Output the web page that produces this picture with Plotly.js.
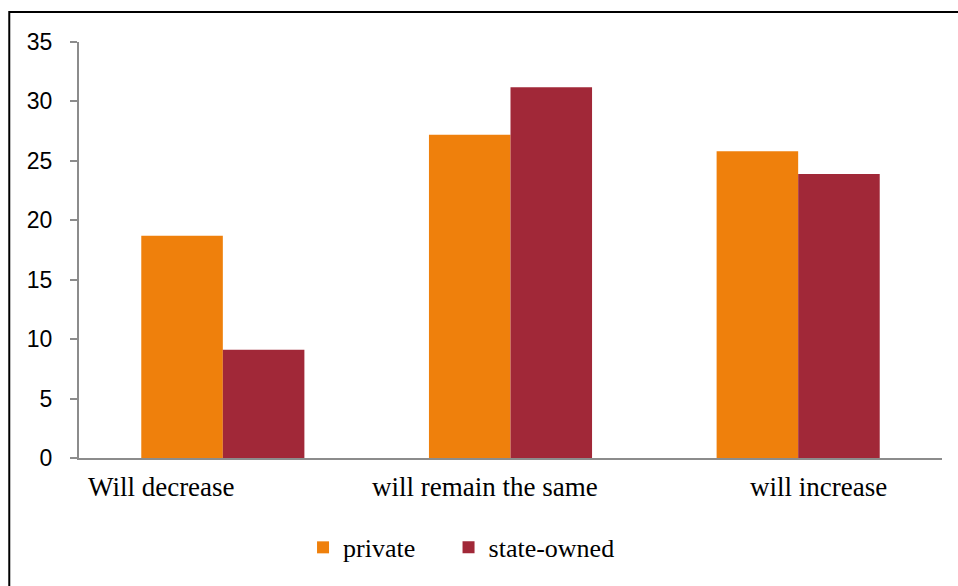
<!DOCTYPE html>
<html>
<head>
<meta charset="utf-8">
<script src="https://cdn.plot.ly/plotly-3.0.1.min.js"></script>
<style>
  html, body { margin: 0; padding: 0; background: #ffffff; }
  #chart { width: 958px; height: 586px; }
</style>
</head>
<body>
<div id="chart"></div>
<script>
const categories = ["Will decrease", "will remain the same", "will increase"];
const privateValues = [18.7, 27.2, 25.8];
const stateOwnedValues = [9.1, 31.2, 23.9];
const seriesNames = ["private", "state-owned"];
const yTickValues = [0, 5, 10, 15, 20, 25, 30, 35];

const labelShifts = [-61, -26, 20];
const serif = "Liberation Serif";
const sans = "Liberation Sans";

const traces = [
  {
    type: "bar",
    name: seriesNames[0],
    x: categories,
    y: privateValues,
    legend: "legend",
    marker: { color: "#EF800C", line: { width: 0 } },
    hoverinfo: "x+y+name"
  },
  {
    type: "bar",
    name: seriesNames[1],
    x: categories,
    y: stateOwnedValues,
    legend: "legend2",
    marker: { color: "#A12838", line: { width: 0 } },
    hoverinfo: "x+y+name"
  }
];

const annotations = categories.map((c, i) => ({
  x: c,
  xref: "x",
  y: -0.0705,
  yref: "paper",
  xanchor: "center",
  yanchor: "middle",
  xshift: labelShifts[i],
  showarrow: false,
  text: c,
  font: { family: serif, size: 27, color: "#000000" }
}));

const legendBase = {
  orientation: "h",
  xanchor: "left",
  y: -0.215,
  yanchor: "middle",
  font: { family: serif, size: 26, color: "#000000" },
  bgcolor: "rgba(0,0,0,0)"
};

const layout = {
  width: 958,
  height: 586,
  margin: { l: 79, r: 16, t: 42, b: 128 },
  font: { family: serif, color: "#000000" },
  paper_bgcolor: "#ffffff",
  plot_bgcolor: "#ffffff",
  barmode: "group",
  bargap: 0.433,
  bargroupgap: 0,
  showlegend: true,
  legend: Object.assign({}, legendBase, { x: 0.2596 }),
  legend2: Object.assign({}, legendBase, { x: 0.4282 }),
  xaxis: {
    type: "category",
    showticklabels: false,
    ticks: "",
    showline: true,
    linecolor: "#8c8c8c",
    linewidth: 2,
    showgrid: false,
    zeroline: false,
    fixedrange: true
  },
  yaxis: {
    range: [0, 35],
    tickvals: yTickValues,
    ticktext: yTickValues.map(String),
    ticks: "outside",
    ticklen: 7,
    tickwidth: 2,
    tickcolor: "#8c8c8c",
    ticklabelstandoff: 13,
    showline: true,
    linecolor: "#8c8c8c",
    linewidth: 2,
    showgrid: false,
    zeroline: false,
    tickfont: { family: sans, size: 23, color: "#000000" },
    fixedrange: true
  },
  annotations: annotations,
  shapes: [
    {
      type: "rect",
      xref: "paper",
      yref: "paper",
      x0: -0.0808,
      x1: 1.2,
      y0: -0.6,
      y1: 1.0722,
      line: { color: "#000000", width: 2 },
      fillcolor: "rgba(0,0,0,0)",
      layer: "above"
    }
  ]
};

Plotly.newPlot("chart", traces, layout, { displayModeBar: false, staticPlot: true });
</script>
</body>
</html>
